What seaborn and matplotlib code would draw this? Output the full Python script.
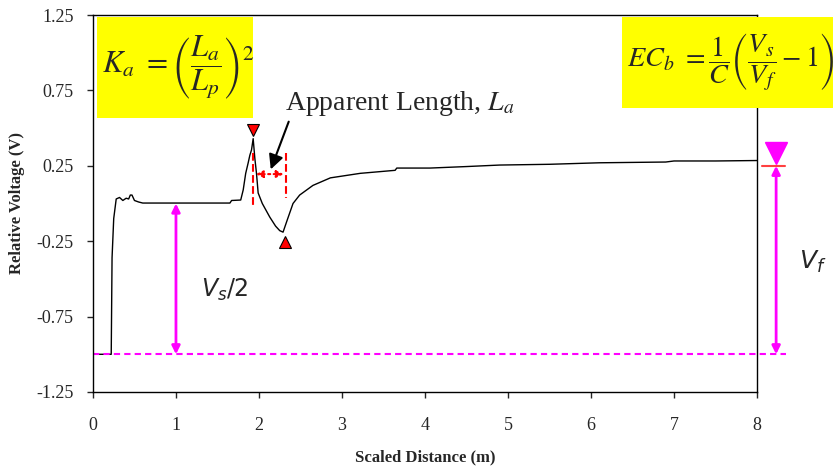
import numpy as np
import pandas as pd
import matplotlib
matplotlib.use("Agg")
import matplotlib.pyplot as plt
import seaborn as sns
from matplotlib.patches import Rectangle

# trace
dist = [0.0, 0.22, 0.23, 0.25, 0.28, 0.32, 0.36, 0.40, 0.43, 0.45, 0.47, 0.50,
        0.55, 0.60, 1.00, 1.50, 1.65, 1.67, 1.78, 1.81, 1.84, 1.87, 1.89, 1.91,
        1.93, 1.95, 1.97, 1.99, 2.04, 2.13, 2.20, 2.25, 2.29, 2.34, 2.41, 2.49,
        2.65, 2.86, 3.22, 3.64, 3.66, 4.06, 4.5, 4.9, 5.5, 6.1, 6.9, 7.0, 7.5, 8.0]
volt = [-1.0, -1.0, -0.36, -0.10, 0.03, 0.04, 0.02, 0.035, 0.03, 0.056, 0.056, 0.02,
        0.01, 0.003, 0.003, 0.003, 0.003, 0.02, 0.023, 0.09, 0.20, 0.27, 0.32, 0.355,
        0.43, 0.30, 0.20, 0.07, 0.0, -0.09, -0.15, -0.18, -0.19, -0.11, 0.0, 0.056,
        0.12, 0.17, 0.20, 0.22, 0.235, 0.235, 0.245, 0.255, 0.26, 0.27, 0.275, 0.282,
        0.282, 0.285]

peak = (1.93, 0.49)
trough = (2.31, -0.255)
baseline = -1.0
plateau = 0.0
vs_x = 1.0
vf_x = 8.23
vf_top = 0.25
la_left, la_right = 1.93, 2.33

yticks = [1.25, 0.75, 0.25, -0.25, -0.75, -1.25]
ytick_labels = ["1.25", "0.75", "0.25", "-0.25", "-0.75", "-1.25"]
xticks = [0, 1, 2, 3, 4, 5, 6, 7, 8]

sns.set_style("ticks")
plt.rcParams['font.family'] = ['Liberation Serif', 'DejaVu Serif']
plt.rcParams['mathtext.fontset'] = 'stix'

fig = plt.figure(figsize=(8.33, 4.69), dpi=100)
ax = fig.add_axes([0.1116, 0.1642, 0.7972, 0.8038])

df = pd.DataFrame({"x": dist, "y": volt})
sns.lineplot(data=df, x="x", y="y", color="black", lw=1, ax=ax)

# markers at peak and trough
ax.plot(*peak, marker="v", ms=8, color="red", mec="black", mew=0.8, clip_on=False)
ax.plot(*trough, marker="^", ms=8, color="red", mec="black", mew=0.8, clip_on=False)

# apparent length dashed markers
ax.plot([la_left, la_left], [0.335, -0.023], ls="--", color="red", lw=1.5)
ax.plot([la_right, la_right], [0.335, 0.036], ls="--", color="red", lw=1.5)
ax.annotate("", xy=(la_left, 0.195), xytext=(la_right, 0.195),
            arrowprops=dict(arrowstyle="<|-|>", color="red", lw=1.5, ls=":",
                            mutation_scale=10))
ax.annotate("", xy=(2.13, 0.209), xytext=(2.37, 0.56),
            arrowprops=dict(arrowstyle="-|>", color="black", lw=1.5,
                            mutation_scale=22))
ax.text(2.31, 0.66, "Apparent Length, $L_a$", fontsize=20, va="center")

# baseline and voltage arrows
ax.plot([0, 8.35], [baseline, baseline], ls="--", color="magenta", lw=1.5,
        clip_on=False, dashes=(3, 2))
ax.annotate("", xy=(vs_x, plateau), xytext=(vs_x, baseline),
            arrowprops=dict(arrowstyle="<|-|>", color="magenta", lw=2,
                            mutation_scale=12, shrinkA=0, shrinkB=0))
ax.text(1.3, -0.57, r"$V_s/2$", fontsize=17, va="center",
        math_fontfamily="dejavusans")

ax.annotate("", xy=(vf_x, vf_top), xytext=(vf_x, baseline),
            arrowprops=dict(arrowstyle="<|-|>", color="magenta", lw=2,
                            mutation_scale=12, shrinkA=0, shrinkB=0),
            annotation_clip=False)
ax.plot([8.06, 8.34], [vf_top, vf_top], color="#ff4040", lw=1.5, clip_on=False)
ax.plot(vf_x, 0.335, marker="v", ms=16, color="magenta", clip_on=False)
ax.text(8.5, -0.39, r"$V_f$", fontsize=18, va="center",
        math_fontfamily="dejavusans")

# equation boxes
ax.add_patch(Rectangle((0.006, 0.727), 0.235, 0.268, transform=ax.transAxes,
                       facecolor="yellow", edgecolor="none", zorder=0.5))
ax.text(0.013, 0.861, r"$K_a\ =\left(\dfrac{L_a}{L_p}\right)^2$", fontsize=22,
        transform=ax.transAxes, ha="left", va="center")
fig.patches.append(Rectangle((622 / 833, 1 - 108 / 469), 211 / 833, 91 / 469,
                             transform=fig.transFigure, facecolor="yellow",
                             edgecolor="none", zorder=0.5))
fig.text(627 / 833, 1 - 62 / 469,
         r"$EC_b\ =\dfrac{1}{C}\left(\dfrac{V_s}{V_f}-1\right)$", fontsize=20.3,
         ha="left", va="center")

ax.set_xlim(0, 8)
ax.set_ylim(-1.25, 1.25)
ax.set_xticks(xticks)
ax.set_xticklabels([str(t) for t in xticks], fontsize=13)
ax.set_yticks(yticks)
ax.set_yticklabels(ytick_labels, fontsize=13)
ax.tick_params(axis="x", direction="out", length=4, width=1, pad=14)
ax.tick_params(axis="y", direction="out", length=4, width=1, pad=10)
for s in ax.spines.values():
    s.set_linewidth(1)
    s.set_color("black")
ax.set_xlabel("Scaled Distance (m)", fontsize=12, fontweight="bold", labelpad=11)
ax.set_ylabel("Relative Voltage (V)", fontsize=12, fontweight="bold", labelpad=8)

fig.savefig("out.png", dpi=100)
